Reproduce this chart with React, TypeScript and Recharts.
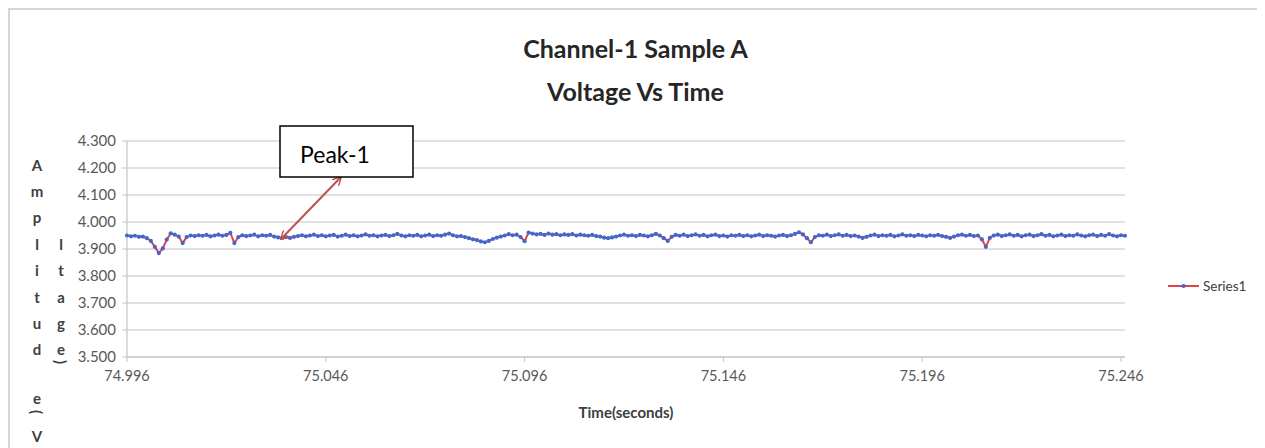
import React from 'react';
import { LineChart, Line, XAxis, YAxis, CartesianGrid } from 'recharts';

// Channel-1 sample A, one reading per millisecond
const timeStart = 74.996;
const timeStepMs = 1;

const voltage = [
  3.950, 3.947, 3.949, 3.945, 3.946, 3.940, 3.930, 3.908, 3.885, 3.902, 3.935, 3.958,
  3.953, 3.946, 3.922, 3.944, 3.950, 3.948, 3.951, 3.949, 3.952, 3.947, 3.950, 3.953,
  3.949, 3.952, 3.960, 3.922, 3.944, 3.951, 3.948, 3.950, 3.953, 3.947, 3.951, 3.949,
  3.952, 3.946, 3.943, 3.940, 3.944, 3.941, 3.945, 3.948, 3.951, 3.947, 3.950, 3.953,
  3.948, 3.951, 3.947, 3.950, 3.952, 3.946, 3.949, 3.953, 3.948, 3.951, 3.947, 3.950,
  3.954, 3.949, 3.951, 3.947, 3.950, 3.952, 3.948, 3.951, 3.956, 3.950, 3.947, 3.951,
  3.949, 3.952, 3.947, 3.950, 3.953, 3.948, 3.951, 3.949, 3.953, 3.957, 3.951, 3.947,
  3.948, 3.944, 3.940, 3.936, 3.933, 3.928, 3.925, 3.930, 3.937, 3.942, 3.946, 3.950,
  3.955, 3.951, 3.953, 3.944, 3.929, 3.961, 3.957, 3.954, 3.956, 3.952, 3.957, 3.953,
  3.955, 3.951, 3.954, 3.952, 3.955, 3.950, 3.953, 3.951, 3.949, 3.952, 3.948, 3.946,
  3.942, 3.940, 3.943, 3.946, 3.950, 3.953, 3.949, 3.951, 3.948, 3.952, 3.950, 3.947,
  3.951, 3.956, 3.950, 3.940, 3.930, 3.945, 3.952, 3.949, 3.953, 3.948, 3.951, 3.954,
  3.949, 3.952, 3.947, 3.951, 3.953, 3.948, 3.950, 3.946, 3.951, 3.949, 3.952, 3.948,
  3.951, 3.947, 3.950, 3.953, 3.948, 3.951, 3.949, 3.946, 3.950, 3.952, 3.948, 3.951,
  3.956, 3.962, 3.954, 3.940, 3.925, 3.944, 3.951, 3.949, 3.953, 3.948, 3.951, 3.954,
  3.949, 3.952, 3.948, 3.950, 3.946, 3.941, 3.945, 3.950, 3.953, 3.948, 3.951, 3.949,
  3.952, 3.947, 3.950, 3.954, 3.949, 3.951, 3.948, 3.952, 3.950, 3.947, 3.951, 3.949,
  3.952, 3.948, 3.945, 3.941, 3.946, 3.951, 3.953, 3.949, 3.952, 3.948, 3.950, 3.936,
  3.908, 3.941, 3.950, 3.953, 3.948, 3.951, 3.954, 3.949, 3.952, 3.947, 3.951, 3.953,
  3.948, 3.951, 3.955, 3.949, 3.952, 3.947, 3.950, 3.953, 3.948, 3.951, 3.949, 3.954,
  3.950, 3.947, 3.951, 3.953, 3.948, 3.952, 3.949, 3.955, 3.950, 3.947, 3.951, 3.949,
];

const timeTicks = [74.996, 75.046, 75.096, 75.146, 75.196, 75.246];
const voltageTicks = [3.5, 3.6, 3.7, 3.8, 3.9, 4.0, 4.1, 4.2, 4.3];

const data = voltage.map((v, i) => ({
  time: Math.round((timeStart * 1000 + i * timeStepMs)) / 1000,
  v,
}));

// stacked letters of the wrapped vertical axis title
const titleCol1 = [
  { ch: 'A', y: 157 }, { ch: 'm', y: 183 }, { ch: 'p', y: 209 }, { ch: 'l', y: 236 },
  { ch: 'i', y: 262 }, { ch: 't', y: 289 }, { ch: 'u', y: 315 }, { ch: 'd', y: 341 },
  { ch: 'e', y: 390 }, { ch: '(', y: 404, rot: true }, { ch: 'V', y: 428 },
];
const titleCol2 = [
  { ch: 'l', y: 236 }, { ch: 't', y: 262 }, { ch: 'a', y: 289 }, { ch: 'g', y: 315 },
  { ch: 'e', y: 341 }, { ch: ')', y: 354, rot: true },
];

const FONT = 'Lato, "Open Sans", sans-serif';
const GRID = '#c4c4c4';
const LINE_RED = '#e5414b';
const MARK_BLUE = '#4267c9';

const Marker = (props: any) => {
  const { cx, cy } = props;
  if (cx == null || cy == null) return null;
  return <circle cx={cx} cy={cy} r={2.1} fill={MARK_BLUE} />;
};

export default function App() {
  const W = 1255;
  const H = 442;
  return (
    <div
      style={{
        position: 'relative',
        width: W,
        height: 445,
        border: '2px solid #d6d6d6',
        boxSizing: 'border-box',
        background: '#fff',
        fontFamily: FONT,
        overflow: 'hidden',
      }}
    >
      <div style={{ position: 'absolute', left: -2, top: -2, width: W, height: H }}>
        <LineChart
          width={W}
          height={H}
          data={data}
          margin={{ top: 133, right: 138, bottom: 63, left: 59 }}
        >
          <CartesianGrid horizontal vertical={false} stroke={GRID} strokeWidth={1.2} />
          <XAxis
            dataKey="time"
            type="number"
            domain={[74.996, 75.247]}
            ticks={timeTicks}
            tickFormatter={(t: number) => t.toFixed(3)}
            height={30}
            axisLine={{ stroke: GRID, strokeWidth: 1.2 }}
            tickLine={{ stroke: GRID }}
            tickSize={5}
            tickMargin={9}
            tick={{ fill: '#595959', fontSize: 14.5, fontFamily: FONT }}
            interval={0}
          />
          <YAxis
            type="number"
            domain={[3.5, 4.3]}
            ticks={voltageTicks}
            tickFormatter={(v: number) => v.toFixed(3)}
            width={60}
            axisLine={{ stroke: GRID, strokeWidth: 1.2 }}
            tickLine={{ stroke: GRID }}
            tickSize={5}
            tickMargin={6}
            tick={{ fill: '#595959', fontSize: 15, fontFamily: FONT }}
            interval={0}
          />
          <Line
            type="linear"
            dataKey="v"
            stroke={LINE_RED}
            strokeWidth={2}
            dot={<Marker />}
            activeDot={false}
            isAnimationActive={false}
          />
        </LineChart>

        <div
          style={{
            position: 'absolute',
            left: 0,
            width: W,
            top: 19,
            textAlign: 'center',
            fontWeight: 700,
            fontSize: 25,
            lineHeight: '43px',
            color: '#262626',
          }}
        >
          <div>Channel-1 Sample A</div>
          <div>Voltage Vs Time</div>
        </div>

        <div
          style={{
            position: 'absolute',
            left: 518,
            width: 200,
            top: 395,
            textAlign: 'center',
            fontWeight: 700,
            fontSize: 15,
            color: '#404040',
          }}
        >
          Time(seconds)
        </div>

        <svg width={W} height={H} style={{ position: 'absolute', left: 0, top: 0, pointerEvents: 'none' }}>
          <defs>
            <marker id="arrowHead" viewBox="0 0 10 10" refX="9" refY="5" markerWidth="9" markerHeight="9" orient="auto-start-reverse" markerUnits="userSpaceOnUse">
              <path d="M0,0 L9.5,5 L0,10" fill="none" stroke="#c0504d" strokeWidth={1.6} />
            </marker>
          </defs>
          {titleCol1.map((c, i) => (
            <text
              key={'a' + i}
              x={29}
              y={c.y}
              textAnchor="middle"
              dominantBaseline="central"
              fontSize={15}
              fontWeight={700}
              fill="#404040"
              fontFamily={FONT}
              transform={c.rot ? `rotate(90 29 ${c.y})` : undefined}
            >
              {c.ch}
            </text>
          ))}
          {titleCol2.map((c, i) => (
            <text
              key={'b' + i}
              x={53}
              y={c.y}
              textAnchor="middle"
              dominantBaseline="central"
              fontSize={15}
              fontWeight={700}
              fill="#404040"
              fontFamily={FONT}
              transform={c.rot ? `rotate(90 53 ${c.y})` : undefined}
            >
              {c.ch}
            </text>
          ))}

          <line
            x1={333}
            y1={169}
            x2={273}
            y2={231}
            stroke="#c0504d"
            strokeWidth={2}
            markerStart="url(#arrowHead)"
            markerEnd="url(#arrowHead)"
          />
          <rect x={272} y={118} width={133} height={51} fill="#fff" stroke="#000" strokeWidth={1.5} />
          <text x={327} y={146} textAnchor="middle" dominantBaseline="central" fontSize={23} fill="#000" fontFamily={FONT}>
            Peak-1
          </text>

          <line x1={1160} y1={278} x2={1191} y2={278} stroke={LINE_RED} strokeWidth={2} />
          <circle cx={1175.5} cy={278} r={2.1} fill={MARK_BLUE} />
          <text x={1195} y={278} dominantBaseline="central" fontSize={13.5} fill="#404040" fontFamily={FONT}>
            Series1
          </text>
        </svg>
      </div>
    </div>
  );
}
